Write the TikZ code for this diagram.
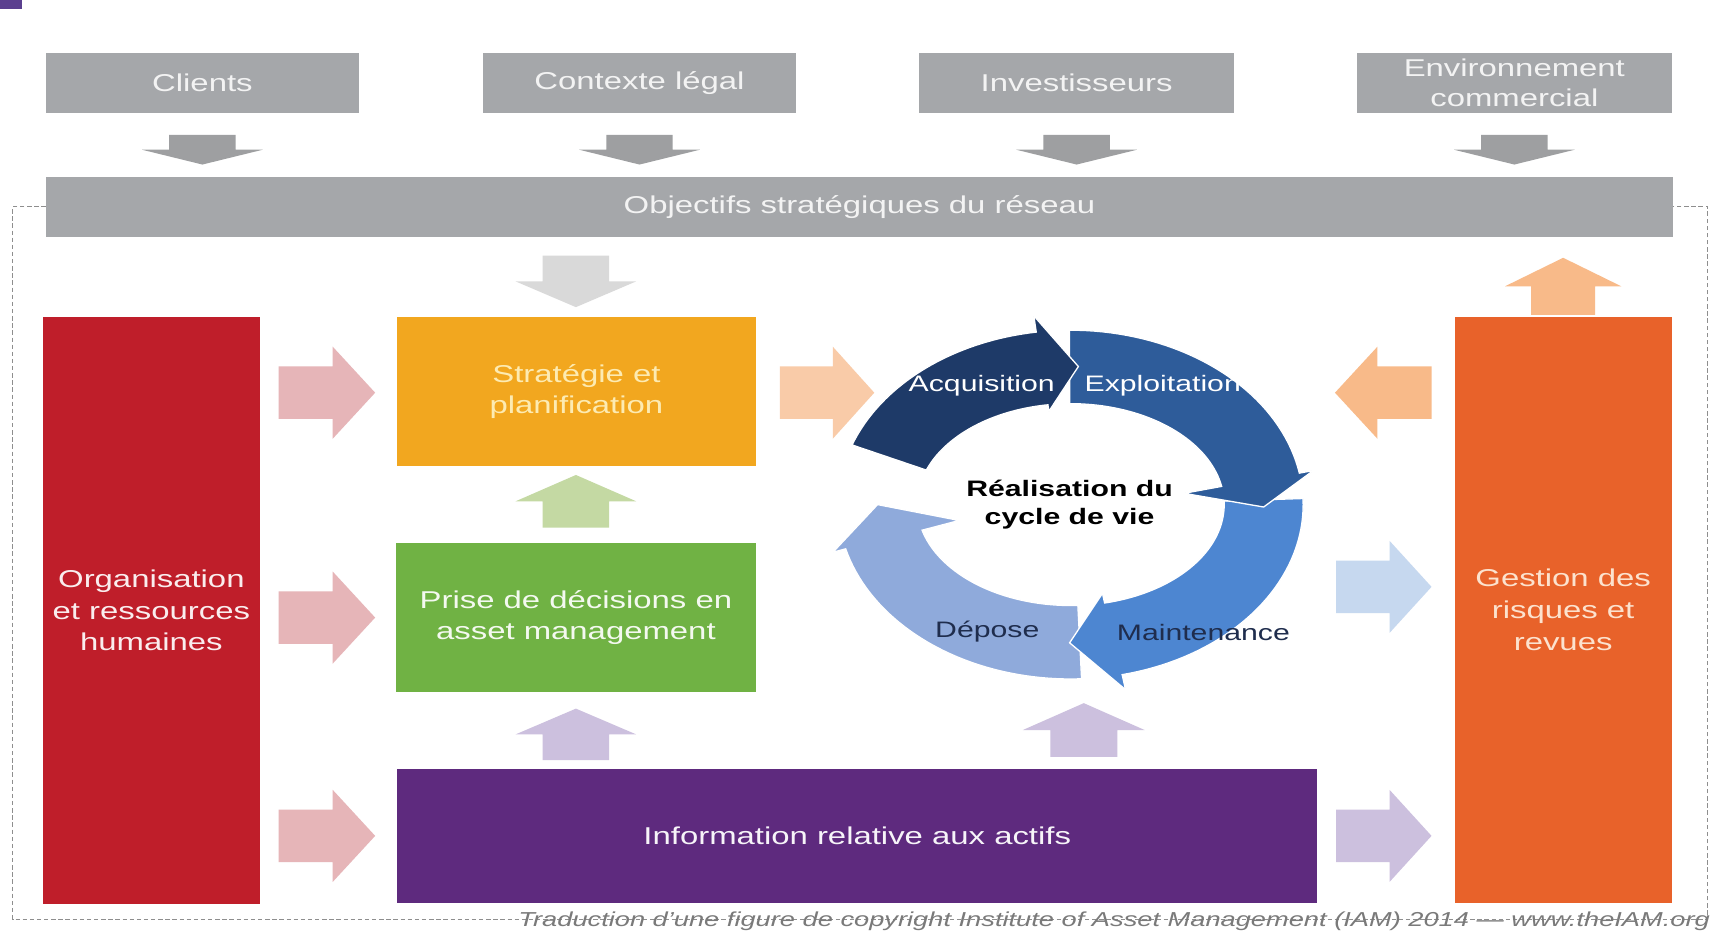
\documentclass[tikz,border=0pt]{standalone}
\usepackage{fontspec}
\setmainfont{Liberation Sans}[FakeStretch=1.35]
\usetikzlibrary{calc}

% palette
\definecolor{boxgrey}{HTML}{A5A7AA}
\definecolor{arrowgrey}{HTML}{9E9FA1}
\definecolor{palegrey}{HTML}{D9D9D9}
\definecolor{lighttext}{HTML}{F3F3F3}
\definecolor{orgred}{HTML}{BF1E2A}
\definecolor{stratyellow}{HTML}{F2A71F}
\definecolor{strattext}{HTML}{FDEBB2}
\definecolor{decgreen}{HTML}{70B244}
\definecolor{infopurple}{HTML}{5E2A7E}
\definecolor{riskorange}{HTML}{E8622A}
\definecolor{risktext}{HTML}{FCE2CE}
\definecolor{pinkarrow}{HTML}{E6B5B8}
\definecolor{greenarrow}{HTML}{C4D9A3}
\definecolor{lavarrow}{HTML}{CCC0DE}
\definecolor{peacharrow}{HTML}{F9CBA8}
\definecolor{peachdeep}{HTML}{F8BA89}
\definecolor{bluearrow}{HTML}{C6D8EF}
\definecolor{acqblue}{HTML}{1E3A68}
\definecolor{expblue}{HTML}{2E5C9A}
\definecolor{mntblue}{HTML}{4D86D1}
\definecolor{depblue}{HTML}{8FAADB}
\definecolor{navytext}{HTML}{1F2D4D}
\definecolor{frameline}{HTML}{8E8E8E}
\definecolor{cornerpurple}{HTML}{5B3F8F}

% horizontal block arrow: colour, tail x, tip x, centre y, head height
\newcommand\blkH[5]{%
  \fill[#1] (#2,{#4-0.285*#5}) -- ({#2+0.56*(#3-#2)},{#4-0.285*#5})
    -- ({#2+0.56*(#3-#2)},{#4-0.5*#5}) -- (#3,#4)
    -- ({#2+0.56*(#3-#2)},{#4+0.5*#5}) -- ({#2+0.56*(#3-#2)},{#4+0.285*#5})
    -- (#2,{#4+0.285*#5}) -- cycle;}
% vertical block arrow: colour, centre x, tail y, tip y, head width
\newcommand\blkV[5]{%
  \fill[#1] ({#2-0.275*#5},#3) -- ({#2-0.275*#5},{#3+0.5*(#4-#3)})
    -- ({#2-0.5*#5},{#3+0.5*(#4-#3)}) -- (#2,#4)
    -- ({#2+0.5*#5},{#3+0.5*(#4-#3)}) -- ({#2+0.275*#5},{#3+0.5*(#4-#3)})
    -- ({#2+0.275*#5},#3) -- cycle;}
% curved arrow of the life-cycle ring (centre 976,460; outer 212x159; inner 140x92):
% colour, tail angle, head-base angle, tip angle, outer head overhang, inner head overhang
\newcommand\ringarrow[6]{%
  \filldraw[fill=#1, draw=white, line width=1.2pt, line join=miter]
    plot[domain=#2:#3, samples=40] ({976+212*cos(\x)},{460-159*sin(\x)})
    -- ({976+(212+#5)*cos(#3)},{460-(159+#5)*sin(#3)})
    -- ({976+176*cos(#4)},{460-126*sin(#4)})
    -- ({976+(140-#6)*cos(#3)},{460-(92-#6)*sin(#3)})
    -- plot[domain=#3:#2, samples=40] ({976+140*cos(\x)},{460-92*sin(\x)})
    -- cycle;}

\newcommand\boxfont{\fontsize{22.2}{29}\selectfont}
\newcommand\ringfont{\fontsize{20.4}{26}\selectfont}

\tikzset{
  panel/.style={rectangle, inner sep=0pt, align=center, font=\boxfont},
  ringlabel/.style={inner sep=0pt, font=\ringfont},
  dashframe/.style={draw=frameline, line width=0.9pt, dash pattern=on 4pt off 2.5pt}
}

\begin{document}
\begin{tikzpicture}[x=1pt, y=-1pt]
\useasboundingbox[fill=white] (0,0) rectangle (1568,848);

% corner mark
\fill[cornerpurple] (0,0) rectangle (20,8);

% external drivers
\node[panel, fill=boxgrey, text=lighttext, minimum width=285, minimum height=55] (clients) at (184.5,75.5) {Clients};
\node[panel, fill=boxgrey, text=lighttext, minimum width=286, minimum height=55] (contexte) at (583,75.5) {Contexte légal};
\node[panel, fill=boxgrey, text=lighttext, minimum width=287, minimum height=55] (investisseurs) at (981.5,75.5) {Investisseurs};
\node[panel, fill=boxgrey, text=lighttext, minimum width=287, minimum height=55, font=\fontsize{22.2}{28}\selectfont] (environnement) at (1380.5,75.5) {Environnement\\commercial};

\blkV{arrowgrey}{184.5}{123}{150}{110}
\blkV{arrowgrey}{583}{123}{150}{110}
\blkV{arrowgrey}{981.5}{123}{150}{110}
\blkV{arrowgrey}{1380.5}{123}{150}{110}

% strategic objectives bar
\node[panel, fill=boxgrey, text=lighttext, minimum width=1483, minimum height=55] (objectifs) at (783.5,188.5) {Objectifs stratégiques du réseau};

% dashed frame round the asset management system
\draw[dashframe] (objectifs.west) -- (11.5,188.5) -- (11.5,838) -- (1557,838) -- (1557,188.5) -- (objectifs.east);

\blkV{palegrey}{525}{233}{280}{110}
\blkV{peachdeep}{1425}{287}{235}{106}

% main blocks
\node[panel, fill=orgred, text=white!92!orgred, minimum width=198, minimum height=535] (orga) at (138,556.5) {Organisation\\et ressources\\humaines};
\node[panel, fill=stratyellow, text=strattext, minimum width=327, minimum height=136] (strategie) at (525.5,357) {Stratégie et\\planification};
\node[panel, fill=decgreen, text=white!92!decgreen, minimum width=328, minimum height=136] (decisions) at (525,563) {Prise de décisions en\\asset management};
\node[panel, fill=infopurple, text=white!95!infopurple, minimum width=839, minimum height=122] (information) at (781.5,762) {Information relative aux actifs};
\node[panel, fill=riskorange, text=risktext, minimum width=198, minimum height=534] (risques) at (1425,556) {Gestion des\\risques et\\revues};

% flows between blocks
\blkH{pinkarrow}{254}{342}{358}{84}
\blkH{pinkarrow}{254}{342}{563}{84}
\blkH{pinkarrow}{254}{342}{762}{84}
\blkV{greenarrow}{525}{481}{433}{110}
\blkV{lavarrow}{525}{693}{646}{110}
\blkV{lavarrow}{988}{690}{641}{111}
\blkH{peacharrow}{711}{797}{358}{84}
\blkH{peachdeep}{1305}{1217}{358}{84}
\blkH{bluearrow}{1218}{1305}{535}{84}
\blkH{lavarrow}{1218}{1305}{762}{84}

% life-cycle ring
\ringarrow{depblue}{272.7}{194.7}{180}{12}{35}
\ringarrow{mntblue}{2}{-77.2}{-90.3}{14}{9}
\ringarrow{expblue}{90.3}{10.4}{-1}{13}{35}
\ringarrow{acqblue}{160}{98.5}{87.7}{15}{6}

\node[ringlabel, text=white] (acquisition) at (895,352) {Acquisition};
\node[ringlabel, text=white] (exploitation) at (1060,352) {Exploitation};
\node[ringlabel, text=navytext] (depose) at (900,576) {Dépose};
\node[ringlabel, text=navytext] (maintenance) at (1097,577) {Maintenance};
\node[ringlabel, align=center, font=\ringfont\bfseries, text=black] (cycle) at (975,460) {Réalisation du\\cycle de vie};

% credit line
\node[inner sep=0pt, anchor=east, text=black!52, font=\fontsize{18.4}{22}\selectfont\itshape] (credit) at (1559,840) {Traduction d'une figure de copyright Institute of Asset Management (IAM) 2014 — www.theIAM.org};
\end{tikzpicture}
\end{document}
